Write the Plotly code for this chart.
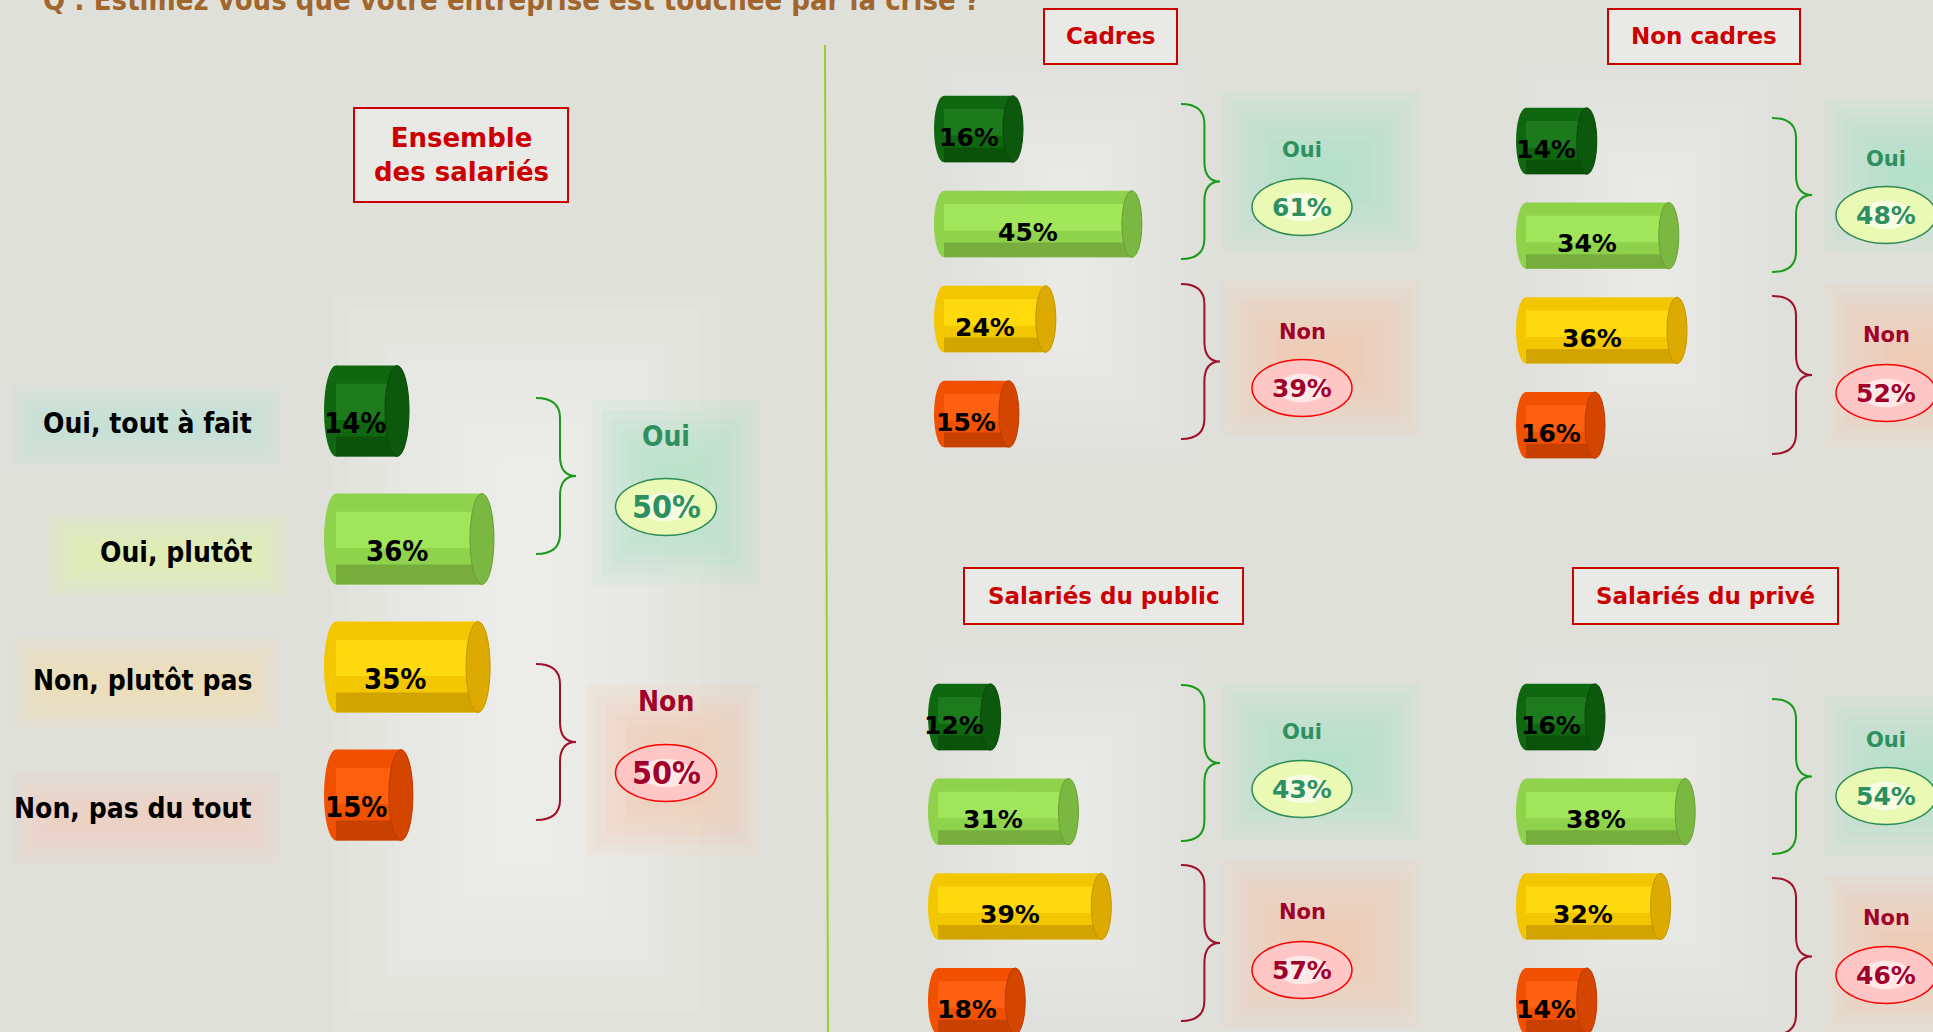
import plotly.graph_objects as go

W, H = 1933, 1032

# ---- data ----
reponses = ["Oui, tout à fait", "Oui, plutôt", "Non, plutôt pas", "Non, pas du tout"]
ensemble = [14, 36, 35, 15]
cadres = [16, 45, 24, 15]
non_cadres = [14, 34, 36, 16]
public = [12, 31, 39, 18]
prive = [16, 38, 32, 14]
total_oui = [50, 61, 48, 43, 54]
total_non = [50, 39, 52, 57, 46]
groupes = ["Ensemble<br>des salariés", "Cadres", "Non cadres", "Salariés du public", "Salariés du privé"]
question = "Q : Estimez vous que votre entreprise est touchée par la crise ?"

# colours of the cylinders (body, highlight, shadow, end cap)
body_c = ["#0f680f", "#8fd24c", "#f2c600", "#f05000"]
light = ["#1f7d1f", "#a4e85c", "#ffdc10", "#ff6212"]
shadow = ["#0a480a", "#6c9e38", "#c49600", "#b83a00"]
cap = ["#0c580c", "#7ab842", "#dcaa00", "#d44600"]

COND = "DejaVu Sans Condensed, DejaVu Sans, sans-serif"
WIDE = "DejaVu Sans, Verdana, sans-serif"
OUI_C = "#2e9060"
NON_C = "#a0002a"


def fx(x):
    return x / W


def fy(y):
    return 1 - y / H


shapes = []
annotations = []


def glow(x0, y0, x1, y1, color, n=8, op=0.1):
    for i in range(n):
        d = i * min(x1 - x0, y1 - y0) / (2 * n + 1)
        shapes.append(dict(type="rect", xref="paper", yref="paper",
                           x0=fx(x0 + d), x1=fx(x1 - d), y0=fy(y1 - d), y1=fy(y0 + d),
                           fillcolor=color, opacity=op, line_width=0, layer="below"))


def brace(x0, y0, x1, y1, color):
    xm = x0 + 0.6 * (x1 - x0)
    ym = (y0 + y1) / 2
    r = 20
    p = (f"M {fx(x0)},{fy(y0)} Q {fx(xm)},{fy(y0)} {fx(xm)},{fy(y0 + r)} "
         f"L {fx(xm)},{fy(ym - r)} Q {fx(xm)},{fy(ym)} {fx(x1)},{fy(ym)} "
         f"Q {fx(xm)},{fy(ym)} {fx(xm)},{fy(ym + r)} L {fx(xm)},{fy(y1 - r)} "
         f"Q {fx(xm)},{fy(y1)} {fx(x0)},{fy(y1)}")
    shapes.append(dict(type="path", xref="paper", yref="paper", path=p,
                       line=dict(color=color, width=2)))


def oval(cx, cy, w, h, fill, inner, border):
    shapes.append(dict(type="circle", xref="paper", yref="paper",
                       x0=fx(cx - w / 2), x1=fx(cx + w / 2), y0=fy(cy + h / 2), y1=fy(cy - h / 2),
                       fillcolor=fill, line=dict(color=border, width=1.5)))
    shapes.append(dict(type="circle", xref="paper", yref="paper",
                       x0=fx(cx - w / 4), x1=fx(cx + w / 4), y0=fy(cy + h / 4), y1=fy(cy - h / 4),
                       fillcolor=inner, opacity=0.6, line_width=0))


def text(x, y, s, size, color, font=WIDE, anchor="center"):
    annotations.append(dict(xref="paper", yref="paper", x=fx(x), y=fy(y), text=s,
                            showarrow=False, xanchor=anchor, yanchor="middle",
                            font=dict(family=font, size=size, color=color)))


def box(x0, y0, x1, y1, label, size):
    shapes.append(dict(type="rect", xref="paper", yref="paper",
                       x0=fx(x0), x1=fx(x1), y0=fy(y1), y1=fy(y0),
                       fillcolor="#e9e9e5", line=dict(color="#cc0000", width=2)))
    annotations.append(dict(xref="paper", yref="paper", x=fx((x0 + x1) / 2), y=fy((y0 + y1) / 2),
                            text=f"<b>{label}</b>", showarrow=False, xanchor="center", yanchor="middle",
                            font=dict(family=WIDE, size=size, color="#cc0000")))


# panel geometry in pixels: left of cylinders, px per %, px offset of 0 %, first centre, step
panels = [
    dict(vals=ensemble, px0=324, k=3.86, c=31, y0=411, step=128, e=12, bw=0.71,
         font=COND, fs=29, dy=12),
    dict(vals=cadres, px0=934, k=4.1, c=23.4, y0=129, step=95, e=10, bw=0.70,
         font=WIDE, fs=25, dy=8),
    dict(vals=non_cadres, px0=1516, k=4.1, c=23.4, y0=141, step=94.7, e=10, bw=0.70,
         font=WIDE, fs=25, dy=8),
    dict(vals=public, px0=928, k=4.1, c=23.4, y0=717, step=94.7, e=10, bw=0.70,
         font=WIDE, fs=25, dy=8),
    dict(vals=prive, px0=1516, k=4.1, c=23.4, y0=717, step=94.7, e=10, bw=0.70,
         font=WIDE, fs=25, dy=8),
]

# background glows (soft lighter areas)
glow(330, 290, 720, 1032, "#ffffff", n=10, op=0.07)
for gx, gy0, gy1 in [(930, 60, 460), (1510, 70, 470), (925, 650, 1032), (1510, 650, 1032)]:
    glow(gx + 10, gy0, gx + 270, gy1, "#ffffff", n=10, op=0.06)

# label glows of the main panel
glow(12, 385, 280, 465, "#bfe6d2", n=8, op=0.12)
glow(45, 512, 290, 598, "#e6f7a8", n=8, op=0.12)
glow(12, 637, 280, 730, "#f3e2aa", n=8, op=0.12)
glow(12, 773, 280, 865, "#f6d0bc", n=8, op=0.12)

fig = go.Figure()
layout_axes = {}
for n, p in enumerate(panels, start=1):
    xs = "" if n == 1 else str(n)
    k, e_u = p["k"], p["e"] / p["k"]
    b0 = -p["c"] / k
    xmax = 50
    ytop = p["y0"] - p["step"] / 2
    ybot = min(p["y0"] + 3.5 * p["step"], H)
    yb = -0.5 + (ybot - ytop) / p["step"]
    layout_axes[f"xaxis{xs}"] = dict(domain=[fx(p["px0"]), fx(p["px0"] + (xmax - b0) * k)],
                                     range=[b0, xmax], anchor=f"y{xs}", visible=False)
    layout_axes[f"yaxis{xs}"] = dict(domain=[fy(ybot), fy(ytop)], range=[yb, -0.5],
                                     anchor=f"x{xs}", visible=False, type="category",
                                     categoryorder="array", categoryarray=reponses)
    vals = p["vals"]
    bw = p["bw"]
    body = [v - b0 - 2 * e_u for v in vals]
    common = dict(y=reponses, x=body, base=b0 + e_u, orientation="h", xaxis=f"x{xs}",
                  yaxis=f"y{xs}", showlegend=False, hoverinfo="skip")
    fig.add_trace(go.Bar(width=bw, marker=dict(color=body_c, line_width=0), **common))
    fig.add_trace(go.Bar(width=bw * 0.22, offset=bw * 0.28, marker=dict(color=shadow, line_width=0),
                         opacity=0.7, **common))
    fig.add_trace(go.Bar(width=bw * 0.4, offset=-bw * 0.3, marker=dict(color=light, line_width=0),
                         opacity=0.9, **common))
    xr, yr = f"x{xs}", f"y{xs}"
    for i, v in enumerate(vals):
        h = bw / 2
        shapes.append(dict(type="circle", xref=xr, yref=yr, x0=b0, x1=b0 + 2 * e_u,
                           y0=i - h, y1=i + h, fillcolor=body_c[i], line_width=0, layer="below"))
        shapes.append(dict(type="circle", xref=xr, yref=yr, x0=v - 2 * e_u, x1=v,
                           y0=i - h, y1=i + h, fillcolor=cap[i],
                           line=dict(color=shadow[i], width=1)))
        annotations.append(dict(xref=xr, yref=yr, x=(b0 + v - 2 * e_u) / 2, y=reponses[i],
                                yshift=-p["dy"], text=f"<b>{v}%</b>", showarrow=False,
                                font=dict(family=p["font"], size=p["fs"], color="black")))

# category labels of the main panel
for r in reponses:
    annotations.append(dict(xref="paper", yref="y", x=fx(254), y=r, yshift=-13, xanchor="right",
                            text=f"<b>{r}</b>", showarrow=False,
                            font=dict(family=COND, size=28, color="black")))

# Oui / Non summaries: brace x, Oui brace y, Non brace y, label centre x, label y's, oval y's
summ = [
    dict(bx=(536, 576), oy=(398, 554), ny=(664, 820), cx=666, ly=(436, 701), vy=(507, 773),
         ow=101, oh=57, font=COND, fl=28, fv=32,
         gl=((592, 400, 760, 585), (586, 685, 760, 855))),
    dict(bx=(1181, 1220), oy=(104, 259), ny=(284, 439), cx=1302, ly=(150, 332), vy=(207, 388),
         ow=100, oh=57, font=WIDE, fl=21, fv=25,
         gl=((1222, 92, 1420, 250), (1222, 280, 1420, 435))),
    dict(bx=(1772, 1812), oy=(118, 272), ny=(296, 454), cx=1886, ly=(159, 335), vy=(215, 393),
         ow=100, oh=57, font=WIDE, fl=21, fv=25,
         gl=((1825, 99, 2000, 250), (1825, 284, 2000, 448))),
    dict(bx=(1181, 1220), oy=(685, 841), ny=(865, 1021), cx=1302, ly=(732, 912), vy=(789, 970),
         ow=100, oh=57, font=WIDE, fl=21, fv=25,
         gl=((1222, 684, 1420, 840), (1222, 860, 1420, 1028))),
    dict(bx=(1772, 1812), oy=(699, 854), ny=(878, 1035), cx=1886, ly=(740, 918), vy=(796, 975),
         ow=100, oh=57, font=WIDE, fl=21, fv=25,
         gl=((1825, 697, 2000, 855), (1825, 875, 2000, 1032))),
]
for s, vo, vn in zip(summ, total_oui, total_non):
    g1, g2 = s["gl"]
    glow(*g1, "#a8e4c4", n=8, op=0.14)
    glow(*g2, "#f8c8a8", n=8, op=0.14)
    brace(s["bx"][0], s["oy"][0], s["bx"][1], s["oy"][1], "#1a9a1a")
    brace(s["bx"][0], s["ny"][0], s["bx"][1], s["ny"][1], "#a0102a")
    oval(s["cx"], s["vy"][0], s["ow"], s["oh"], "#eafab4", "#ffffff", "#2e8b57")
    oval(s["cx"], s["vy"][1], s["ow"], s["oh"], "#ffc6c6", "#ffffff", "#ff0000")
    text(s["cx"], s["ly"][0], "<b>Oui</b>", s["fl"], OUI_C, s["font"])
    text(s["cx"], s["ly"][1], "<b>Non</b>", s["fl"], NON_C, s["font"])
    text(s["cx"], s["vy"][0], f"<b>{vo}%</b>", s["fv"], OUI_C, s["font"])
    text(s["cx"], s["vy"][1], f"<b>{vn}%</b>", s["fv"], NON_C, s["font"])

# group title boxes
box(354, 108, 568, 202, groupes[0], 26)
box(1044, 9, 1177, 64, groupes[1], 23)
box(1608, 9, 1800, 64, groupes[2], 23)
box(964, 568, 1243, 624, groupes[3], 23)
box(1573, 568, 1838, 624, groupes[4], 23)

# divider and question (cut at the top edge, as in the original slide)
shapes.append(dict(type="line", xref="paper", yref="paper", x0=fx(825), x1=fx(828),
                   y0=fy(45), y1=fy(1032), line=dict(color="#9acd32", width=2)))
text(41, 0, f"<b>{question}</b>", 29, "#a0662e", COND, anchor="left")

fig.update_layout(
    width=W, height=H, margin=dict(l=0, r=0, t=0, b=0),
    paper_bgcolor="#dfe0da", plot_bgcolor="rgba(0,0,0,0)",
    barmode="overlay", shapes=shapes, annotations=annotations, **layout_axes,
)
fig.write_html("out.html", config={"displayModeBar": False},
               post_script="document.body.style.margin='0';document.body.style.background='#dfe0da';")
